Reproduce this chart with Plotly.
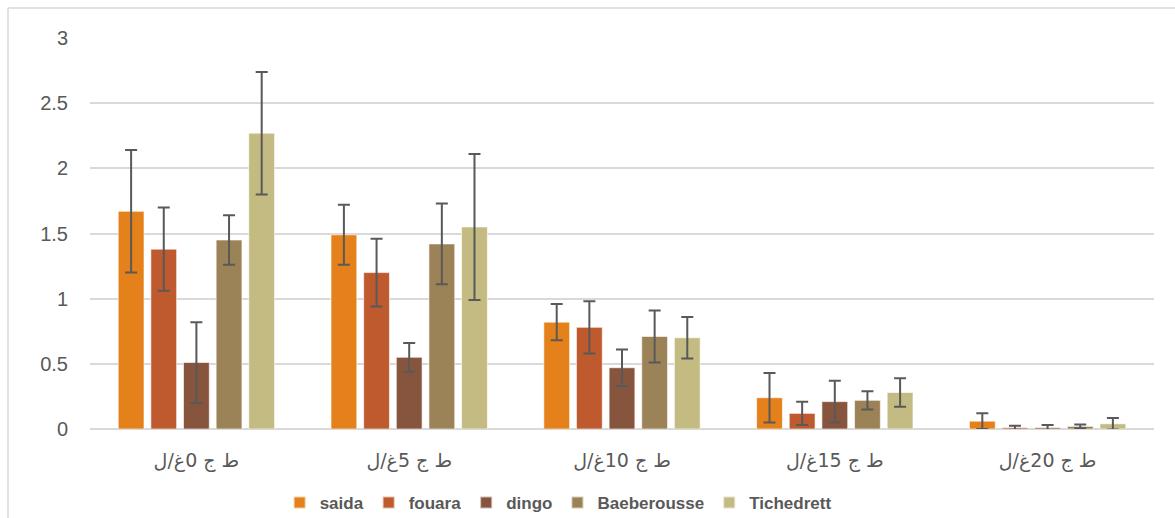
import plotly.graph_objects as go

categories = ["ط ج 0غ/ل", "ط ج 5غ/ل", "ط ج 10غ/ل", "ط ج 15غ/ل", "ط ج 20غ/ل"]
series_names = ["saida", "fouara", "dingo", "Baeberousse", "Tichedrett"]
saida = [1.67, 1.49, 0.82, 0.24, 0.06]
fouara = [1.38, 1.20, 0.78, 0.12, 0.01]
dingo = [0.51, 0.55, 0.47, 0.21, 0.01]
baeberousse = [1.45, 1.42, 0.71, 0.22, 0.02]
tichedrett = [2.27, 1.55, 0.70, 0.28, 0.04]
saida_err = [0.47, 0.23, 0.14, 0.19, 0.06]
fouara_err = [0.32, 0.26, 0.20, 0.09, 0.015]
dingo_err = [0.31, 0.11, 0.14, 0.16, 0.02]
baeberousse_err = [0.19, 0.31, 0.20, 0.07, 0.015]
tichedrett_err = [0.47, 0.56, 0.16, 0.11, 0.044]
y_ticks = [0, 0.5, 1, 1.5, 2, 2.5, 3]

values = [saida, fouara, dingo, baeberousse, tichedrett]
errors = [saida_err, fouara_err, dingo_err, baeberousse_err, tichedrett_err]
colors = ["#E5811A", "#BE5A2D", "#87553E", "#9C8257", "#C3BB82"]

fig = go.Figure()
for name, v, e, c in zip(series_names, values, errors, colors):
    fig.add_trace(go.Bar(
        name=name, x=categories, y=v,
        marker=dict(color=c, line=dict(color="rgba(255,255,255,0.6)", width=1)),
        error_y=dict(type="data", array=e, visible=True, color="#595959", thickness=2, width=6),
    ))

fig.update_layout(
    width=1175, height=518,
    barmode="group", bargap=0.233, bargroupgap=0.21,
    plot_bgcolor="white", paper_bgcolor="white",
    margin=dict(l=90, r=21, t=38, b=89, autoexpand=False),
    font=dict(family="Liberation Sans, DejaVu Sans, sans-serif", color="#595959"),
    yaxis=dict(range=[0, 3], tickvals=y_ticks, ticktext=[str(t) for t in y_ticks],
               showgrid=True, gridcolor="#D9D9D9", gridwidth=1.5,
               zeroline=True, zerolinecolor="#D9D9D9", zerolinewidth=1.5,
               showline=False, tickfont=dict(size=20, family="Liberation Sans, sans-serif", color="#595959"),
               ticks="", ticklen=0, ticklabelstandoff=21, fixedrange=True),
    xaxis=dict(showline=False, ticks="", tickfont=dict(size=19, family="DejaVu Sans, sans-serif", color="#595959"),
               ticklabelstandoff=18, fixedrange=True),
    legend=dict(orientation="h", x=0.44, xanchor="center", y=-0.189, yanchor="middle",
                font=dict(size=17, family="Liberation Sans Narrow, Liberation Sans, sans-serif",
                          color="#595959", weight="bold"),
                itemsizing="constant", traceorder="normal", bgcolor="rgba(0,0,0,0)"),
    shapes=[
        dict(type="line", xref="paper", yref="paper", x0=-82/1064, x1=1.1, y0=1 + 30/391, y1=1 + 30/391,
             line=dict(color="#D9D9D9", width=1.5)),
        dict(type="line", xref="paper", yref="paper", x0=-82/1064, x1=-82/1064, y0=-0.3, y1=1 + 30/391,
             line=dict(color="#D9D9D9", width=1.5)),
    ],
)

fig.write_html("out.html", config={"displayModeBar": False},
               post_script="document.body.style.margin='0';document.body.style.overflow='hidden';")
